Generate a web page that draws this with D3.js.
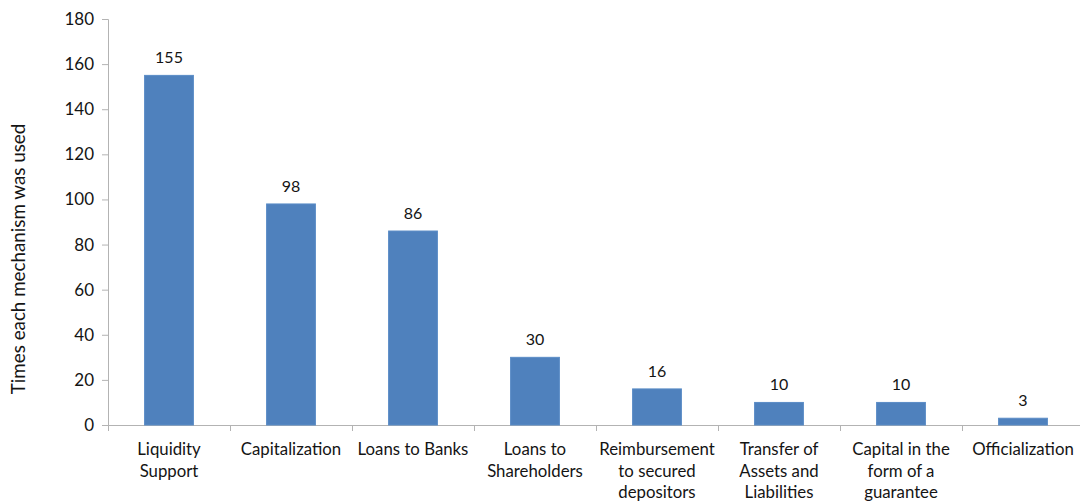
<!DOCTYPE html>
<html>
<head>
<meta charset="utf-8">
<script src="https://cdn.jsdelivr.net/npm/d3@7/dist/d3.min.js"></script>
<style>
  html, body { margin: 0; padding: 0; background: #fff; }
  svg text { font-family: Lato, "Open Sans", sans-serif; fill: #141414; }
</style>
</head>
<body>
<svg id="chart" width="1080" height="504"></svg>
<script>
// Mechanisms and how often each was used
const categories = [
  ["Liquidity", "Support"],
  ["Capitalization"],
  ["Loans to Banks"],
  ["Loans to", "Shareholders"],
  ["Reimbursement", "to secured", "depositors"],
  ["Transfer of", "Assets and", "Liabilities"],
  ["Capital in the", "form of a", "guarantee"],
  ["Officialization"]
];
const values = [155, 98, 86, 30, 16, 10, 10, 3];
const yTicks = [0, 20, 40, 60, 80, 100, 120, 140, 160, 180];
const yTitle = "Times each mechanism was used";

const svg = d3.select("#chart");
const plot = { left: 108, right: 1084, top: 19, bottom: 425 };
const axisColor = "#b3b3b3";

const keys = categories.map((c, i) => i);
const x = d3.scaleBand().domain(keys).range([plot.left, plot.right]).padding(0);
const y = d3.scaleLinear().domain([0, 180]).range([plot.bottom, plot.top]);
const barW = x.bandwidth() * 0.4;

// y axis
const yAxis = svg.append("g")
  .attr("transform", `translate(${plot.left},0)`)
  .call(d3.axisLeft(y).tickValues(yTicks).tickSize(6).tickPadding(8));
yAxis.select(".domain").attr("stroke", axisColor);
yAxis.selectAll(".tick line").attr("stroke", axisColor);
yAxis.selectAll(".tick text").style("font-size", "17px");

// x axis: baseline with ticks at category boundaries
svg.append("line")
  .attr("x1", plot.left).attr("x2", plot.right)
  .attr("y1", plot.bottom + 0.5).attr("y2", plot.bottom + 0.5)
  .attr("stroke", axisColor);
svg.append("g").selectAll("line")
  .data(keys.concat([keys.length]))
  .join("line")
  .attr("x1", d => Math.round(plot.left + d * x.step()) + 0.5)
  .attr("x2", d => Math.round(plot.left + d * x.step()) + 0.5)
  .attr("y1", plot.bottom).attr("y2", plot.bottom + 6)
  .attr("stroke", axisColor);

// bars
svg.append("g").selectAll("rect")
  .data(values)
  .join("rect")
  .attr("x", (d, i) => x(i) + (x.bandwidth() - barW) / 2)
  .attr("y", d => y(d))
  .attr("width", barW)
  .attr("height", d => y(0) - y(d))
  .attr("fill", "#4f81bd")
  .attr("stroke", "#5a8cc6")
  .attr("stroke-width", 1);

// value labels
svg.append("g").selectAll("text")
  .data(values)
  .join("text")
  .attr("x", (d, i) => x(i) + x.bandwidth() / 2)
  .attr("y", d => y(d) - 12)
  .attr("text-anchor", "middle")
  .style("font-size", "16px")
  .text(d => d);

// category labels
const cat = svg.append("g").selectAll("text")
  .data(categories)
  .join("text")
  .attr("x", (d, i) => x(i) + x.bandwidth() / 2)
  .attr("y", plot.bottom + 30)
  .attr("text-anchor", "middle")
  .style("font-size", "16.8px");
cat.selectAll("tspan")
  .data(d => d)
  .join("tspan")
  .attr("x", function () { return this.parentNode.getAttribute("x"); })
  .attr("dy", (d, i) => i === 0 ? 0 : 21.5)
  .text(d => d);

// y axis title
svg.append("text")
  .attr("transform", "translate(25,259) rotate(-90)")
  .attr("text-anchor", "middle")
  .style("font-size", "18.8px")
  .text(yTitle);
</script>
</body>
</html>
